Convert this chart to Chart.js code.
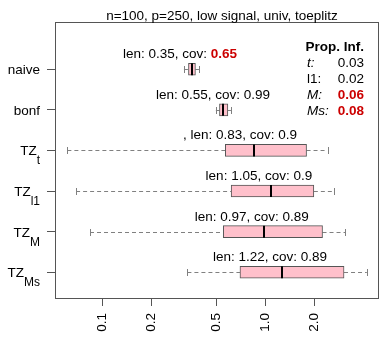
<!DOCTYPE html>
<html>
<head>
<meta charset="utf-8">
<script src="https://cdn.jsdelivr.net/npm/chart.js@4/dist/chart.umd.min.js"></script>
<style>
body { margin: 0; background: #fff; }
</style>
</head>
<body>
<canvas id="boxchart" width="388" height="347"></canvas>
<script>
// values (x axis is log scale)
var methods = ['naive', 'bonf', 'TZ', 'TZ', 'TZ', 'TZ']
var subLabels = ['', '', 't', 'l1', 'M', 'Ms']
var whiskerLow = [0.317, 0.498, 0.061, 0.069, 0.084, 0.333]
var q1 = [0.338, 0.524, 0.569, 0.618, 0.553, 0.700]
var medians = [0.354, 0.554, 0.849, 1.079, 0.986, 1.26]
var q3 = [0.373, 0.590, 1.795, 1.99, 2.25, 3.05]
var whiskerHigh = [0.392, 0.616, 2.415, 2.65, 3.11, 4.21]

var lenText = ['0.35', '0.55', '0.83', '1.05', '0.97', '1.22']
var covText = ['0.65', '0.99', '0.9', '0.9', '0.89', '0.89']
var covLow = [true, false, false, false, false, false]
var labelPrefix = ['', '', ', ', '', '', '']
var labelAt = [0.300, 0.478, 0.70, 0.915, 0.828, 1.07]

var xTicks = [0.1, 0.2, 0.5, 1.0, 2.0]
var xTickLabels = ['0.1', '0.2', '0.5', '1.0', '2.0']

var propNames = ['t', 'l1', 'M', 'Ms']
var propItalic = [true, false, true, true]
var propValues = ['0.03', '0.02', '0.06', '0.08']
var propHigh = [false, false, true, true]

var chartTitle = 'n=100, p=250, low signal, univ, toeplitz'

var FONT = '"Liberation Sans", Arial, sans-serif'
var RED = '#CC0000'

function font(size, style) {
	return (style || '') + ' ' + size + 'px ' + FONT
}

// draws pieces of text [{t, font, color}] in a row, centred on x
function drawPieces(ctx, pieces, x, y, align) {
	var total = 0
	pieces.forEach(function (p) {
		ctx.font = p.font
		p.w = ctx.measureText(p.t).width
		total += p.w
	})
	var cx = align == 'right' ? x - total : x - total / 2
	ctx.textAlign = 'left'
	ctx.textBaseline = 'alphabetic'
	pieces.forEach(function (p) {
		ctx.font = p.font
		ctx.fillStyle = p.color
		ctx.fillText(p.t, cx, y)
		cx += p.w
	})
}

var boxDecor = {
	id: 'boxDecor',
	beforeDatasetsDraw: function (chart) {
		var ctx = chart.ctx, xs = chart.scales.x, ys = chart.scales.y
		ctx.save()
		ctx.strokeStyle = '#808080'
		ctx.lineWidth = 1
		for (var i = 0; i < methods.length; i++) {
			var y = Math.round(ys.getPixelForValue(i + 1)) + 0.5
			var lo = xs.getPixelForValue(whiskerLow[i])
			var a = xs.getPixelForValue(q1[i])
			var b = xs.getPixelForValue(q3[i])
			var hi = xs.getPixelForValue(whiskerHigh[i])
			ctx.setLineDash([4, 3])
			ctx.beginPath()
			ctx.moveTo(lo, y); ctx.lineTo(a, y)
			ctx.moveTo(b, y); ctx.lineTo(hi, y)
			ctx.stroke()
			ctx.setLineDash([])
			ctx.beginPath()
			ctx.moveTo(Math.round(lo) + 0.5, y - 3.5); ctx.lineTo(Math.round(lo) + 0.5, y + 3.5)
			ctx.moveTo(Math.round(hi) + 0.5, y - 3.5); ctx.lineTo(Math.round(hi) + 0.5, y + 3.5)
			ctx.stroke()
		}
		ctx.restore()
	},
	afterDatasetsDraw: function (chart) {
		var ctx = chart.ctx, xs = chart.scales.x, ys = chart.scales.y
		ctx.save()
		// medians
		ctx.strokeStyle = '#000'
		ctx.lineWidth = 2
		for (var i = 0; i < methods.length; i++) {
			var y = ys.getPixelForValue(i + 1)
			var m = Math.round(xs.getPixelForValue(medians[i]))
			ctx.beginPath()
			ctx.moveTo(m, y - 6); ctx.lineTo(m, y + 6)
			ctx.stroke()
		}
		// len / cov labels
		for (var i = 0; i < methods.length; i++) {
			var y = ys.getPixelForValue(i + 1) - 11
			var x = xs.getPixelForValue(labelAt[i])
			drawPieces(ctx, [
				{t: labelPrefix[i] + 'len: ' + lenText[i] + ', cov: ', font: font(13.5), color: '#000'},
				{t: covText[i], font: covLow[i] ? font(13.5, 'bold') : font(13.5), color: covLow[i] ? RED : '#000'}
			], x, y, 'center')
		}
		ctx.restore()
	},
	afterDraw: function (chart) {
		var ctx = chart.ctx, area = chart.chartArea, ys = chart.scales.y
		ctx.save()
		// frame
		ctx.strokeStyle = '#555'
		ctx.lineWidth = 1
		ctx.strokeRect(Math.round(area.left) + 0.5, Math.round(area.top) + 0.5,
			Math.round(area.right - area.left) - 1, Math.round(area.bottom - area.top) - 1)
		// title
		ctx.fillStyle = '#000'
		ctx.font = font(13.5)
		ctx.textAlign = 'center'
		ctx.textBaseline = 'alphabetic'
		ctx.fillText(chartTitle, (area.left + area.right) / 2 + 5, 20)
		// method labels with subscripts
		for (var i = 0; i < methods.length; i++) {
			var y = ys.getPixelForValue(i + 1)
			var right = area.left - 15
			ctx.font = font(13.5)
			var w1 = ctx.measureText(methods[i]).width
			var w2 = 0
			if (subLabels[i]) {
				ctx.font = font(12)
				w2 = ctx.measureText(subLabels[i]).width
			}
			ctx.textAlign = 'left'
			ctx.fillStyle = '#000'
			ctx.font = font(13.5)
			ctx.fillText(methods[i], right - w1 - w2, y + 5)
			if (subLabels[i]) {
				ctx.font = font(12)
				ctx.fillText(subLabels[i], right - w2, y + 14)
			}
		}
		// Prop. Inf. box
		var lx = area.right - 72
		var rx = area.right - 15
		ctx.font = font(13.5, 'bold')
		ctx.textAlign = 'right'
		ctx.fillText('Prop. Inf.', rx, area.top + 28.5)
		for (var k = 0; k < propNames.length; k++) {
			var by = area.top + 45 + k * 16
			ctx.textAlign = 'left'
			ctx.fillStyle = '#000'
			ctx.font = propItalic[k] ? font(13.5, 'italic') : font(13.5)
			ctx.fillText(propNames[k] + ':', lx, by)
			ctx.textAlign = 'right'
			ctx.font = propHigh[k] ? font(13.5, 'bold') : font(13.5)
			ctx.fillStyle = propHigh[k] ? RED : '#000'
			ctx.fillText(propValues[k], rx, by)
		}
		ctx.restore()
	}
}

new Chart('boxchart', {
	type: 'bar',
	data: {
		datasets: [{
			data: methods.map(function (m, i) { return {y: i + 1, x: [q1[i], q3[i]]} }),
			backgroundColor: '#FFC0CB',
			borderColor: '#555',
			borderWidth: 1,
			borderSkipped: false,
			barThickness: 12
		}]
	},
	options: {
		indexAxis: 'y',
		responsive: false,
		animation: false,
		devicePixelRatio: 1,
		layout: { padding: { top: 22, right: 9, left: 0, bottom: 0 } },
		plugins: {
			legend: { display: false },
			title: { display: false },
			tooltip: { enabled: false }
		},
		scales: {
			x: {
				type: 'logarithmic',
				min: 0.0512,
				max: 5.0,
				border: { display: false },
				grid: { drawOnChartArea: false, tickLength: 7, color: '#555' },
				afterBuildTicks: function (scale) {
					scale.ticks = xTicks.map(function (v) { return {value: v} })
					scale.min = 0.0512
					scale.max = 5.0
				},
				afterFit: function (scale) { scale.height = 48 },
				ticks: {
					autoSkip: false,
					minRotation: 90,
					maxRotation: 90,
					padding: 7,
					color: '#000',
					font: { family: FONT, size: 13.5 },
					callback: function (v, idx) { return xTickLabels[idx] }
				}
			},
			y: {
				type: 'linear',
				reverse: true,
				offset: false,
				min: -0.165,
				max: 6.66,
				border: { display: false },
				grid: { drawOnChartArea: false, offset: false, tickLength: 8, color: '#555' },
				afterBuildTicks: function (scale) {
					scale.ticks = methods.map(function (m, i) { return {value: i + 1} })
					scale.min = -0.165
					scale.max = 6.66
				},
				afterFit: function (scale) { scale.width = 55 },
				ticks: {
					callback: function () { return '' }
				}
			}
		}
	},
	plugins: [boxDecor]
})
</script>
</body>
</html>
